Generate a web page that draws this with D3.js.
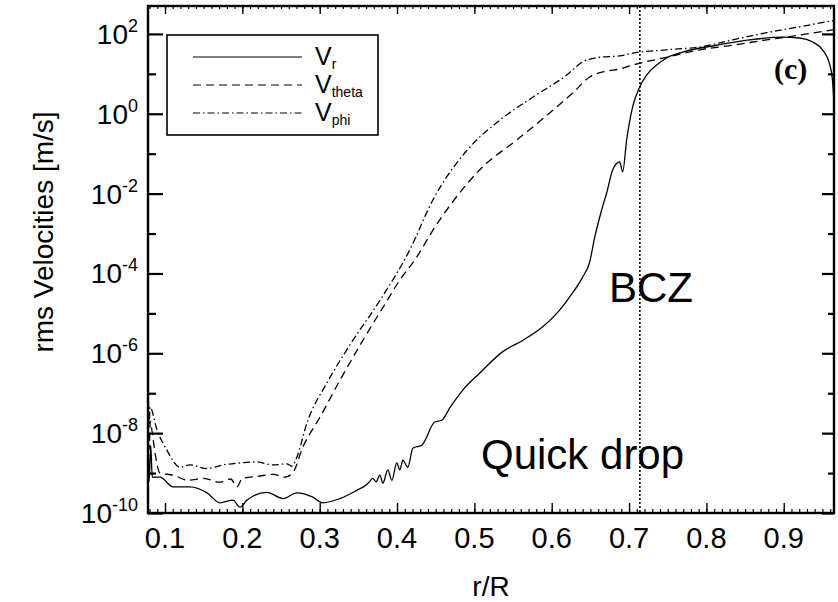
<!DOCTYPE html>
<html>
<head>
<meta charset="utf-8">
<script src="https://cdn.jsdelivr.net/npm/d3@7"></script>
<style>
  body { margin: 0; background: #fff; }
  text { font-family: "Liberation Sans", Arial, sans-serif; fill: #000; }
</style>
</head>
<body>
<div class="canvas"></div>
<script>
// data: r/R and rms velocity [m/s]
const rVr = [0.078, 0.0795, 0.0815, 0.0835, 0.0935, 0.1103, 0.1323, 0.1543, 0.1711, 0.1879, 0.1969, 0.206,
  0.2318, 0.2525, 0.2705, 0.2912, 0.3041, 0.3261, 0.348, 0.36, 0.365, 0.3687, 0.3728, 0.3778, 0.3817, 0.3881,
  0.3933, 0.3997, 0.4036, 0.4075, 0.414, 0.4204, 0.432, 0.4488, 0.4579, 0.4682, 0.485, 0.507, 0.5367, 0.5625,
  0.5884, 0.6065, 0.6233, 0.64, 0.649, 0.6556, 0.6646, 0.6711, 0.6788, 0.6879, 0.6917, 0.6969, 0.7047, 0.7137,
  0.7227, 0.7357, 0.7486, 0.7693, 0.8132, 0.8558, 0.8984, 0.9204, 0.9372, 0.9501, 0.959, 0.963, 0.965];
const vr = [1.3e-8, 6.3e-10, 5.0e-9, 7.9e-10, 7.9e-10, 4.5e-10, 4.5e-10, 3.2e-10, 1.8e-10, 2.1e-10, 1.4e-10, 2.1e-10,
  3.3e-10, 2.3e-10, 3.2e-10, 2.5e-10, 1.8e-10, 2.3e-10, 3.7e-10, 5.0e-10, 6.3e-10, 7.4e-10, 6.0e-10, 8.9e-10, 5.6e-10, 1.2e-9,
  6.6e-10, 1.8e-9, 1.2e-9, 2.1e-9, 1.4e-9, 4.2e-9, 5.0e-9, 1.9e-8, 2.1e-8, 4.3e-8, 1.2e-7, 3.2e-7, 1.1e-6, 2.1e-6,
  4.6e-6, 1.0e-5, 2.6e-5, 8.1e-5, 1.9e-4, 8.1e-4, 3.9e-3, 1.05e-2, 3.9e-2, 6.2e-2, 3.5e-2, 0.22, 1.5, 4.7,
  9.3, 16.6, 25, 35, 52, 71, 83, 79, 63, 40, 18.6, 7.1, 2.0];

const rVtheta = [0.078, 0.0795, 0.081, 0.083, 0.0871, 0.0935, 0.1103, 0.13, 0.15, 0.17, 0.185, 0.193, 0.2, 0.22,
  0.24, 0.255, 0.265, 0.2783, 0.3003, 0.3261, 0.3558, 0.3817, 0.4036, 0.4256, 0.4463, 0.4708, 0.5109, 0.5548,
  0.5974, 0.6271, 0.649, 0.6711, 0.6879, 0.7047, 0.7486, 0.7912, 0.8339, 0.8778, 0.9204, 0.965];
const vtheta = [5.0e-8, 4.0e-9, 2.0e-8, 1.2e-8, 3.2e-9, 1.0e-9, 8.9e-10, 6.6e-10, 7.4e-10, 5.9e-10, 7.1e-10, 4.5e-10, 7.4e-10, 8.3e-10,
  9.3e-10, 7.9e-10, 1.0e-9, 4.5e-9, 2.5e-8, 2.1e-7, 2.1e-6, 1.4e-5, 6.8e-5, 2.6e-4, 1.2e-3, 5.8e-3, 4.7e-2, 0.22,
  1.05, 3.3, 8.3, 11.7, 13.2, 16.6, 26, 40, 52, 71, 93, 128];

const rVphi = [0.078, 0.0795, 0.0806, 0.0897, 0.1026, 0.1194, 0.1323, 0.1543, 0.1749, 0.1969, 0.2189, 0.2395,
  0.2576, 0.2641, 0.2705, 0.2835, 0.3093, 0.3429, 0.3778, 0.4165, 0.4463, 0.4902, 0.5328, 0.5755, 0.6194, 0.64,
  0.662, 0.6879, 0.7047, 0.7486, 0.7912, 0.8339, 0.8778, 0.9204, 0.965];
const vphi = [3.2e-7, 1.6e-8, 4.5e-8, 1.2e-8, 3.7e-9, 1.4e-9, 1.6e-9, 1.3e-9, 1.6e-9, 1.8e-9, 1.9e-9, 1.6e-9,
  1.7e-9, 1.5e-9, 2.5e-9, 1.8e-8, 1.8e-7, 2.1e-6, 2.1e-5, 3.9e-4, 6.9e-3, 0.12, 0.69, 2.6, 9.3, 20,
  26, 28, 33, 40, 47, 71, 107, 151, 218];

const xTicks = [0.1, 0.2, 0.3, 0.4, 0.5, 0.6, 0.7, 0.8, 0.9];
const yExponents = [2, 0, -2, -4, -6, -8, -10];
const bczR = 0.714;

const series = [
  {name: 'r', r: rVr, v: vr, dash: null},
  {name: 'theta', r: rVtheta, v: vtheta, dash: '8,5'},
  {name: 'phi', r: rVphi, v: vphi, dash: '7,3,1.5,3'}
];

const width = 838, height = 602;
const margin = {top: 6, bottom: 89, left: 148, right: 4};
const graphWidth = width - margin.left - margin.right;
const graphHeight = height - margin.top - margin.bottom;

const svg = d3.select('.canvas')
  .append('svg')
    .attr('width', width)
    .attr('height', height);

const graph = svg.append('g')
  .attr('transform', `translate(${margin.left}, ${margin.top})`);

const x = d3.scaleLinear().domain([0.078, 0.965]).range([0, graphWidth]);
const y = d3.scaleLog().domain([1e-10, 500]).range([graphHeight, 0]);

graph.append('clipPath').attr('id', 'clip')
  .append('rect').attr('width', graphWidth).attr('height', graphHeight);

// curves
const line = d3.line()
  .x(d => x(d[0]))
  .y(d => y(d[1]))
  .curve(d3.curveMonotoneX);

graph.append('g').attr('clip-path', 'url(#clip)')
  .selectAll('path')
  .data(series)
  .enter()
  .append('path')
    .attr('d', s => line(s.r.map((r, i) => [r, s.v[i]])))
    .attr('fill', 'none')
    .attr('stroke', '#000')
    .attr('stroke-width', 1.3)
    .attr('stroke-dasharray', s => s.dash);

// BCZ line
graph.append('line')
  .attr('x1', x(bczR)).attr('x2', x(bczR))
  .attr('y1', 0).attr('y2', graphHeight)
  .attr('stroke', '#000')
  .attr('stroke-width', 1.6)
  .attr('stroke-dasharray', '2,2');

// axes, ticks pointing inwards
const xMinor = d3.range(8, 97).map(d => d / 100);
const yMajor = yExponents.map(e => Math.pow(10, e));
const yMinor = [1e1, 1e-1, 1e-3, 1e-5, 1e-7, 1e-9];

const addAxis = (axis, transform, sw) => {
  const g = graph.append('g').attr('transform', transform).call(axis);
  g.select('.domain').remove();
  g.selectAll('line').attr('stroke-width', sw);
  g.selectAll('text').remove();
  return g;
};

addAxis(d3.axisBottom(x).tickValues(xMinor).tickSize(-4), `translate(0, ${graphHeight})`, 1.2);
addAxis(d3.axisBottom(x).tickValues(xTicks).tickSize(-10), `translate(0, ${graphHeight})`, 1.4);
addAxis(d3.axisTop(x).tickValues(xMinor).tickSize(-3), 'translate(0, 0)', 1.2);
addAxis(d3.axisTop(x).tickValues(xTicks).tickSize(-8), 'translate(0, 0)', 1.4);
addAxis(d3.axisLeft(y).tickValues(yMajor).tickSize(-15), 'translate(0, 0)', 2.2);
addAxis(d3.axisLeft(y).tickValues(yMinor).tickSize(-8), 'translate(0, 0)', 2.2);
addAxis(d3.axisRight(y).tickValues(yMajor).tickSize(-12), `translate(${graphWidth}, 0)`, 2.2);
addAxis(d3.axisRight(y).tickValues(yMinor).tickSize(-6), `translate(${graphWidth}, 0)`, 2.2);

// frame
graph.append('rect')
  .attr('width', graphWidth)
  .attr('height', graphHeight)
  .attr('fill', 'none')
  .attr('stroke', '#000')
  .attr('stroke-width', 2.4);

// tick labels
graph.append('g').selectAll('text')
  .data(xTicks)
  .enter()
  .append('text')
    .attr('x', d => x(d))
    .attr('y', graphHeight + 35)
    .attr('text-anchor', 'middle')
    .style('font-size', '29px')
    .text(d => d.toFixed(1));

const yLabels = graph.append('g').selectAll('text')
  .data(yExponents)
  .enter()
  .append('text')
    .attr('x', -10)
    .attr('y', e => y(Math.pow(10, e)) + 10)
    .attr('text-anchor', 'end')
    .style('font-size', '28px');
yLabels.append('tspan').text('10');
yLabels.append('tspan')
  .attr('dy', -12)
  .style('font-size', '18px')
  .text(e => e);

// axis titles
svg.append('text')
  .attr('x', margin.left + graphWidth / 2)
  .attr('y', 596)
  .attr('text-anchor', 'middle')
  .style('font-size', '28px')
  .text('r/R');

svg.append('text')
  .attr('transform', 'translate(53, 232) rotate(-90)')
  .attr('text-anchor', 'middle')
  .style('font-size', '28px')
  .text('rms Velocities [m/s]');

// annotations
svg.append('text').attr('x', 609).attr('y', 302).style('font-size', '42px').text('BCZ');
svg.append('text').attr('x', 481).attr('y', 469).style('font-size', '42px').text('Quick drop');
svg.append('text')
  .attr('x', 774).attr('y', 79)
  .style('font-family', '"Liberation Serif", "Times New Roman", serif')
  .style('font-weight', 'bold')
  .style('font-size', '30px')
  .text('(c)');

// legend
const legend = svg.append('g').attr('transform', 'translate(167, 35)');
legend.append('rect')
  .attr('width', 211).attr('height', 100)
  .attr('fill', '#fff')
  .attr('stroke', '#000')
  .attr('stroke-width', 1.6);

const items = legend.selectAll('g.item')
  .data(series)
  .enter()
  .append('g')
    .attr('class', 'item')
    .attr('transform', (d, i) => `translate(0, ${22 + i * 28})`);

items.append('line')
  .attr('x1', 26).attr('x2', 135)
  .attr('stroke', '#000')
  .attr('stroke-width', 1.2)
  .attr('stroke-dasharray', d => d.dash);

const labels = items.append('text')
  .attr('x', 148)
  .attr('y', 8)
  .style('font-size', '25px');
labels.append('tspan').text('V');
labels.append('tspan')
  .attr('dy', 4)
  .style('font-size', '14px')
  .text(d => d.name);
</script>
</body>
</html>
